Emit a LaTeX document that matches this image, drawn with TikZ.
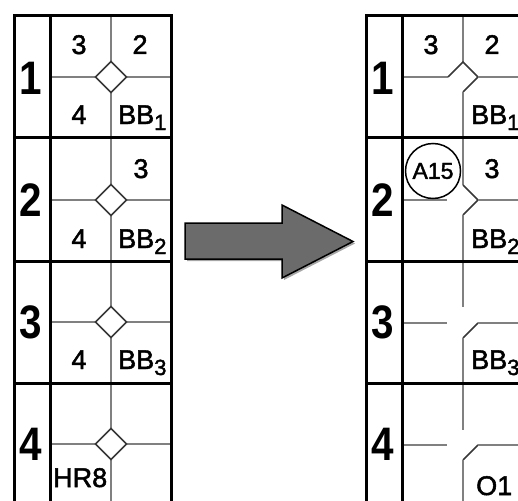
\documentclass[tikz,border=0pt]{standalone}
\usepackage{fontspec}
\setmainfont{Liberation Sans}
\newfontfamily\lblfont[FakeBold=1.8]{Liberation Sans}
\newfontfamily\bigfont[FakeStretch=0.86]{Liberation Sans Bold}
\usetikzlibrary{shadows}
\newcommand\bbsub[1]{\raisebox{-6pt}{\fontsize{22}{22}\selectfont #1}}
\begin{document}
\begin{tikzpicture}[x=1pt,y=-1pt,
  heavy/.style={line width=3pt, draw=black},
  gridline/.style={line width=1.2pt, draw=black!50},
  diag/.style={line width=1.5pt, draw=black!78},
  bignum/.style={font=\bigfont\fontsize{47}{47}\selectfont, inner sep=0pt},
  lbl/.style={font=\lblfont\fontsize{27}{27}\selectfont, inner sep=0pt},
  arrowshape/.style={fill=black!58, draw=black, line width=1.5pt, line join=miter,
     drop shadow={shadow xshift=2pt, shadow yshift=-2pt, opacity=.35, fill=black}},
]
\useasboundingbox (0,0) rectangle (518,500);
\clip (0,0) rectangle (518,500);

% ---------------- left grid ----------------
\draw[gridline] (111,16) -- (111,505);
\foreach \m in {77,200,322,444}{
  \draw[gridline] (50,\m) -- (171,\m);
  \draw[diag, fill=white] (95.5,\m) -- (111,\m-15.5) -- (126.5,\m) -- (111,\m+15.5) -- cycle;
}
\draw[heavy] (14,505) -- (14,16) -- (171,16) -- (171,505);
\draw[heavy] (50,16) -- (50,505);
\foreach \r in {137.5,261.5,383}{ \draw[heavy] (14,\r) -- (171,\r); }

\node[bignum] (L1) at (31,78) {1};
\node[bignum] (L2) at (31,200) {2};
\node[bignum] (L3) at (31,322) {3};
\node[bignum] (L4) at (31,444) {4};

\node[lbl, anchor=base] (La3) at (79,54) {3};
\node[lbl, anchor=base] (La2) at (140,54) {2};
\node[lbl, anchor=base] (La4) at (79,124) {4};
\node[lbl, anchor=base west] (LaBB) at (118,124) {BB\bbsub{1}};
\node[lbl, anchor=base] (Lb3) at (141,178) {3};
\node[lbl, anchor=base] (Lb4) at (79,248) {4};
\node[lbl, anchor=base west] (LbBB) at (118,248) {BB\bbsub{2}};
\node[lbl, anchor=base] (Lc4) at (79,369) {4};
\node[lbl, anchor=base west] (LcBB) at (118,369) {BB\bbsub{3}};
\node[lbl, anchor=base west] (LdHR) at (53,487) {HR8};

% ---------------- arrow ----------------
\path[arrowshape] (185,223) -- (282,223) -- (282,205) -- (353,241.5)
   -- (282,278) -- (282,259) -- (185,259) -- cycle;

% ---------------- right grid ----------------
% row 1
\draw[gridline] (463,16) -- (463,62);
\draw[gridline] (402,77) -- (448,77);
\draw[diag] (448,77) -- (463,62) -- (478,77) -- (463,92);
\draw[gridline] (478,77) -- (525,77);
\draw[gridline] (463,92) -- (463,137);
% row 2
\draw[gridline] (463,137) -- (463,185);
\draw[gridline] (402,200) -- (447,200);
\draw[diag] (463,185) -- (478,200) -- (463,215);
\draw[gridline] (478,200) -- (525,200);
\draw[gridline] (463,215) -- (463,261);
% row 3
\draw[gridline] (463,261) -- (463,307);
\draw[gridline] (402,323) -- (447,323);
\draw[diag] (478,323) -- (463,338);
\draw[gridline] (478,323) -- (525,323);
\draw[gridline] (463,338) -- (463,383);
% row 4
\draw[gridline] (463,383) -- (463,430);
\draw[gridline] (402,445) -- (447,445);
\draw[diag] (478,445) -- (463,460);
\draw[gridline] (478,445) -- (525,445);
\draw[gridline] (463,460) -- (463,505);

\draw[heavy] (366,505) -- (366,16) -- (525,16);
\draw[heavy] (402,16) -- (402,505);
\foreach \r in {137.5,261.5,383}{ \draw[heavy] (366,\r) -- (525,\r); }

\node[bignum] (R1) at (383,78) {1};
\node[bignum] (R2) at (383,200) {2};
\node[bignum] (R3) at (383,322) {3};
\node[bignum] (R4) at (383,444) {4};

\node[lbl, anchor=base] (Ra3) at (431,54) {3};
\node[lbl, anchor=base] (Ra2) at (492,54) {2};
\node[lbl, anchor=base west] (RaBB) at (471,124) {BB\bbsub{1}};
\node[circle, draw=black, line width=1.5pt, minimum size=55pt, inner sep=0pt,
      font=\lblfont\fontsize{23}{23}\selectfont] (A15) at (433,171) {A15};
\node[lbl, anchor=base] (Rb3) at (492,178) {3};
\node[lbl, anchor=base west] (RbBB) at (471,248) {BB\bbsub{2}};
\node[lbl, anchor=base west] (RcBB) at (471,369) {BB\bbsub{3}};
\node[lbl, anchor=base west] (RdO1) at (476,495) {O1};
\end{tikzpicture}
\end{document}
